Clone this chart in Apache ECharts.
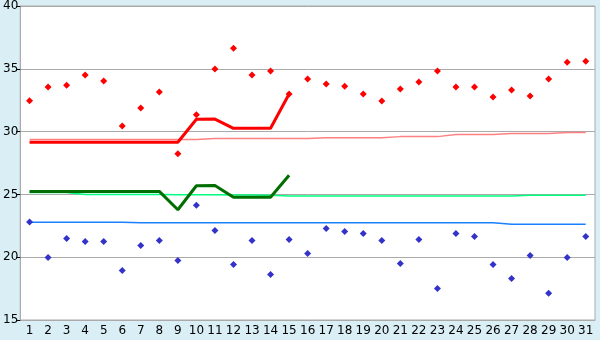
<!DOCTYPE html>
<html>
<head>
<meta charset="utf-8">
<script src="https://cdn.jsdelivr.net/npm/echarts@6/dist/echarts.min.js"></script>
<style>
html,body{margin:0;padding:0;background:#d9eff5;}
#c{width:600px;height:340px;}
</style>
</head>
<body>
<div id="c"></div>
<script>
var days = ['1','2','3','4','5','6','7','8','9','10','11','12','13','14','15','16','17','18','19','20','21','22','23','24','25','26','27','28','29','30','31'];
var yTicks = [15, 20, 25, 30, 35, 40];
var redPoints = [32.46,33.55,33.7,34.5,34.02,30.45,31.88,33.15,28.23,31.35,34.98,36.64,34.5,34.82,33.0,34.18,33.78,33.62,32.99,32.43,33.39,33.94,34.82,33.55,33.55,32.75,33.31,32.83,34.18,35.53,35.61];
var bluePoints = [22.8,19.98,21.48,21.25,21.25,18.94,20.93,21.33,19.74,24.13,22.12,19.42,21.33,18.63,21.4,20.29,22.28,22.04,21.88,21.33,19.5,21.4,17.51,21.88,21.64,19.42,18.31,20.13,17.12,19.98,21.64];
var redLine = [29.15,29.15,29.15,29.15,29.15,29.15,29.15,29.15,29.15,30.98,31.0,30.26,30.26,30.26,33.0,null,null,null,null,null,null,null,null,null,null,null,null,null,null,null,null];
var greenLine = [25.24,25.24,25.24,25.24,25.24,25.24,25.24,25.24,23.78,25.69,25.71,24.78,24.78,24.78,26.53,null,null,null,null,null,null,null,null,null,null,null,null,null,null,null,null];
var pinkLine = [29.37,29.37,29.37,29.37,29.37,29.37,29.37,29.37,29.37,29.37,29.45,29.45,29.45,29.45,29.45,29.45,29.52,29.52,29.52,29.52,29.6,29.6,29.6,29.76,29.76,29.76,29.84,29.84,29.84,29.92,29.92];
var lightGreenLine = [25.15,25.15,25.15,25.0,25.0,25.0,25.0,25.0,24.97,24.97,24.97,24.95,24.95,24.93,24.88,24.87,24.87,24.87,24.87,24.87,24.87,24.87,24.87,24.87,24.87,24.87,24.87,24.93,24.93,24.93,24.93];
var blueLine = [22.78,22.78,22.78,22.78,22.78,22.78,22.74,22.74,22.74,22.74,22.74,22.74,22.74,22.74,22.74,22.74,22.74,22.74,22.74,22.74,22.74,22.74,22.74,22.74,22.74,22.74,22.62,22.62,22.62,22.62,22.62];

var chart = echarts.init(document.getElementById('c'), null, {renderer: 'canvas'});
var fontFam = 'DejaVu Sans';
function lineSeries(data, color, width, z) {
  return {type: 'line', data: data, symbol: 'none', smooth: false, connectNulls: false,
    lineStyle: {color: color, width: width}, itemStyle: {color: color}, z: z, animation: false};
}
function pointSeries(data, color) {
  return {type: 'line', data: data, symbol: 'diamond', symbolSize: 7, showSymbol: true,
    lineStyle: {width: 0, opacity: 0}, itemStyle: {color: color}, z: 10, animation: false};
}
chart.setOption({
  backgroundColor: '#d9eff5',
  animation: false,
  grid: {left: 20, right: 5, top: 5, bottom: 20, show: true, backgroundColor: '#ffffff', borderColor: '#aaaaaa', borderWidth: 1},
  xAxis: {
    type: 'category', data: days, boundaryGap: true,
    axisLine: {lineStyle: {color: '#aaaaaa', width: 1}},
    axisTick: {alignWithLabel: true, length: 4, lineStyle: {color: '#000000'}},
    axisLabel: {color: '#000000', fontFamily: fontFam, fontSize: 12, margin: 5, interval: 0}
  },
  yAxis: {
    type: 'value', min: yTicks[0], max: yTicks[yTicks.length - 1], interval: 5,
    axisLine: {show: true, lineStyle: {color: '#aaaaaa', width: 1}},
    axisTick: {show: true, length: 4, lineStyle: {color: '#000000'}},
    splitLine: {lineStyle: {color: '#aaaaaa', width: 1}},
    axisLabel: {color: '#000000', fontFamily: fontFam, fontSize: 12, margin: 2}
  },
  series: [
    lineSeries(pinkLine, '#ff8080', 1.5, 2),
    lineSeries(lightGreenLine, '#00ff80', 1.5, 2),
    lineSeries(blueLine, '#1a80ff', 1.5, 2),
    lineSeries(redLine, '#ff0000', 3, 3),
    lineSeries(greenLine, '#006e00', 3, 3),
    pointSeries(redPoints, '#ff0000'),
    pointSeries(bluePoints, '#3333cc')
  ]
});
</script>
</body>
</html>
